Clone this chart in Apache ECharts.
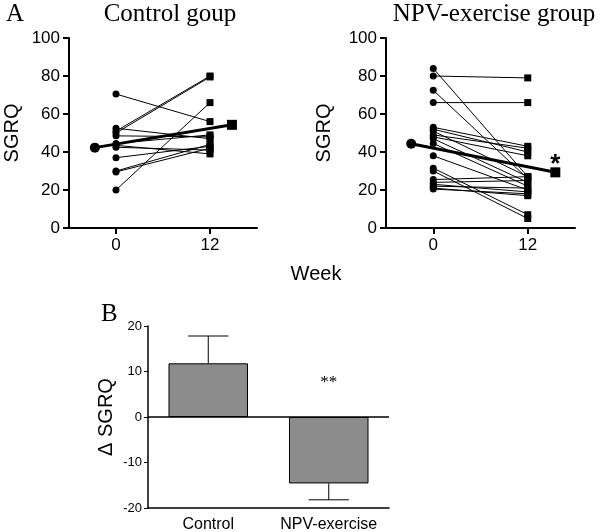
<!DOCTYPE html>
<html>
<head>
<meta charset="utf-8">
<script src="https://cdn.jsdelivr.net/npm/echarts@6/dist/echarts.min.js"></script>
<style>
  html, body { margin: 0; padding: 0; background: #fff; }
  #main { width: 600px; height: 532px; }
</style>
</head>
<body>
<div id="main"></div>
<script>
// weeks on the x axis of panel A
const weeks = [0, 12];

// control group, one entry per subject
const controlWeek0  = [70.5, 52.5, 51, 50, 48.5, 44.5, 43.5, 42.5, 37, 30, 29.5, 20];
const controlWeek12 = [56, 47, 80, 79.5, 48, 49, 39, 41, 43, 44, 42, 66];

// NPV-exercise group
const npvWeek0  = [84, 80, 72.5, 66, 53, 52, 51, 49, 48, 47, 44.5, 38, 31.5, 30, 25.5, 24, 23, 22, 20.5, 21];
const npvWeek12 = [27, 79, 26, 66, 43, 40, 27, 42, 38, 24, 22, 20, 7, 5, 27, 25, 19, 21, 18, 17];

// group means (drawn beside the individual points)
const controlMeanX = [-2.7, 14.8];
const controlMean  = [42.3, 54.3];
const npvMeanX = [-2.8, 15.5];
const npvMean  = [44.3, 29.3];

// panel B
const groups = ['Control', 'NPV-exercise'];
const deltaMean = [11.8, -14.6];
const deltaSem  = [6.0, 3.6];

const sans = 'Liberation Sans, Arial, sans-serif';
const serif = 'Liberation Serif, Times New Roman, serif';

function pairSeries(week0, week12, gridIdx) {
  return week0.map(function (v, i) {
    return {
      type: 'line',
      xAxisIndex: gridIdx, yAxisIndex: gridIdx,
      data: [[weeks[0], v], [weeks[1], week12[i]]],
      symbol: function (val, p) { return p.dataIndex === 0 ? 'circle' : 'rect'; },
      symbolSize: 7,
      itemStyle: { color: '#000' },
      lineStyle: { color: '#000', width: 1 },
      z: 3
    };
  });
}

function meanSeries(xs, ys, gridIdx) {
  return {
    type: 'line',
    xAxisIndex: gridIdx, yAxisIndex: gridIdx,
    data: [[xs[0], ys[0]], [xs[1], ys[1]]],
    symbol: function (val, p) { return p.dataIndex === 0 ? 'circle' : 'rect'; },
    symbolSize: 10,
    itemStyle: { color: '#000' },
    lineStyle: { color: '#000', width: 3 },
    z: 5
  };
}

function weekAxis(gridIdx) {
  return {
    type: 'value', gridIndex: gridIdx, min: -6, max: 18,
    axisLine: { onZero: false, lineStyle: { color: '#000', width: 2 } },
    axisTick: { customValues: weeks, length: 6, lineStyle: { color: '#000', width: 2 } },
    axisLabel: { customValues: weeks, color: '#000', fontSize: 17, fontFamily: sans, margin: 9 },
    splitLine: { show: false }
  };
}

function sgrqAxis(gridIdx, gap) {
  return {
    type: 'value', gridIndex: gridIdx, min: 0, max: 100, interval: 20,
    name: 'SGRQ', nameLocation: 'middle', nameGap: gap,
    nameTextStyle: { color: '#000', fontSize: 20, fontFamily: sans },
    axisLine: { show: true, onZero: false, lineStyle: { color: '#000', width: 2 } },
    axisTick: { show: true, length: 6, lineStyle: { color: '#000', width: 2 } },
    axisLabel: { color: '#000', fontSize: 17, fontFamily: sans, margin: 9 },
    splitLine: { show: false }
  };
}

const chart = echarts.init(document.getElementById('main'));

chart.setOption({
  animation: false,
  backgroundColor: '#fff',
  title: [
    { text: 'A', left: 1, top: -3, textStyle: { fontFamily: serif, fontSize: 25, fontWeight: 'normal', color: '#000' } },
    { text: 'Control goup', left: 165, top: -3, textAlign: 'center', textStyle: { fontFamily: serif, fontSize: 25, fontWeight: 'normal', color: '#000' } },
    { text: 'NPV-exercise group', left: 489, top: -3, textAlign: 'center', textStyle: { fontFamily: serif, fontSize: 25, fontWeight: 'normal', color: '#000' } },
    { text: 'Week', left: 311, top: 259, textAlign: 'center', textStyle: { fontFamily: sans, fontSize: 20, fontWeight: 'normal', color: '#000' } },
    { text: 'B', left: 96, top: 297, textStyle: { fontFamily: serif, fontSize: 25, fontWeight: 'normal', color: '#000' } }
  ],
  grid: [
    { left: 69, top: 38, width: 188, height: 190, outerBoundsMode: 'none' },
    { left: 386, top: 38, width: 189, height: 190, outerBoundsMode: 'none' },
    { left: 148, top: 326, width: 241, height: 182, outerBoundsMode: 'none' }
  ],
  xAxis: [
    weekAxis(0),
    weekAxis(1),
    {
      type: 'category', gridIndex: 2, data: groups,
      axisLine: { onZero: false, lineStyle: { color: '#000', width: 1.5 } },
      axisTick: { alignWithLabel: true, length: 5, lineStyle: { color: '#000', width: 1 } },
      axisLabel: { interval: 0, color: '#000', fontSize: 16, fontFamily: sans, margin: 9 }
    }
  ],
  yAxis: [
    sgrqAxis(0, 47),
    sgrqAxis(1, 52),
    {
      type: 'value', gridIndex: 2, min: -20, max: 20, interval: 10,
      name: 'Δ SGRQ', nameLocation: 'middle', nameGap: 32,
      nameTextStyle: { color: '#000', fontSize: 20, fontFamily: sans },
      axisLine: { show: true, onZero: false, lineStyle: { color: '#000', width: 1.5 } },
      axisTick: { show: true, length: 4, lineStyle: { color: '#000', width: 1 } },
      axisLabel: { color: '#000', fontSize: 13, fontFamily: sans, margin: 6 },
      splitLine: { show: false }
    }
  ],
  series: [].concat(
    pairSeries(controlWeek0, controlWeek12, 0),
    pairSeries(npvWeek0, npvWeek12, 1),
    [
      meanSeries(controlMeanX, controlMean, 0),
      meanSeries(npvMeanX, npvMean, 1),
      {
        type: 'scatter', xAxisIndex: 1, yAxisIndex: 1,
        data: [[npvMeanX[1], npvMean[1] + 4]],
        symbolSize: 1,
        itemStyle: { opacity: 0 },
        label: { show: true, position: 'inside', formatter: '*', color: '#000', opacity: 1, fontSize: 26, fontWeight: 'bold', fontFamily: sans }
      },
      {
        type: 'bar', xAxisIndex: 2, yAxisIndex: 2,
        data: deltaMean, barWidth: '66%',
        itemStyle: { color: '#8c8c8c', borderColor: '#000', borderWidth: 1 },
        markLine: {
          silent: true, symbol: 'none', label: { show: false },
          lineStyle: { color: '#000', width: 1.5, type: 'solid' },
          data: [{ yAxis: 0 }]
        }
      },
      {
        type: 'custom', xAxisIndex: 2, yAxisIndex: 2,
        data: deltaMean.map(function (v, i) { return [i, v, deltaSem[i]]; }),
        renderItem: function (params, api) {
          const x = api.value(0), v = api.value(1), e = api.value(2);
          const base = api.coord([x, v]);
          const tip = api.coord([x, v >= 0 ? v + e : v - e]);
          const hw = api.size([1, 0])[0] * 0.167;
          const st = { stroke: '#000', lineWidth: 1 };
          return { type: 'group', children: [
            { type: 'line', shape: { x1: base[0], y1: base[1], x2: tip[0], y2: tip[1] }, style: st },
            { type: 'line', shape: { x1: tip[0] - hw, y1: tip[1], x2: tip[0] + hw, y2: tip[1] }, style: st }
          ] };
        },
        z: 4
      },
      {
        type: 'scatter', xAxisIndex: 2, yAxisIndex: 2,
        data: [[1, 7.5]],
        symbolSize: 1,
        itemStyle: { opacity: 0 },
        label: { show: true, position: 'inside', formatter: '**', color: '#000', opacity: 1, fontSize: 17, fontFamily: serif }
      }
    ]
  )
});
</script>
</body>
</html>
